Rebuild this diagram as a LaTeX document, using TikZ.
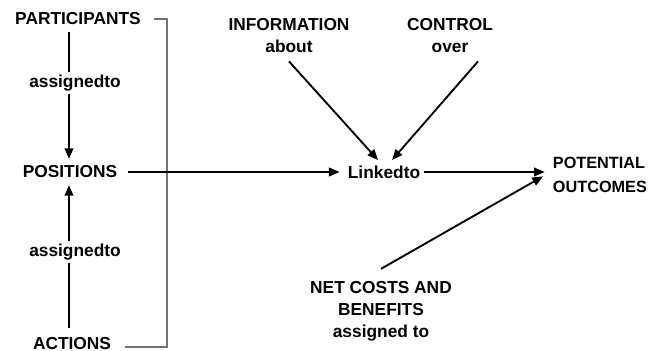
\documentclass[tikz,border=0pt]{standalone}
\usepackage{fontspec}
\setmainfont{Liberation Sans}
\usetikzlibrary{arrows.meta}
\begin{document}
\begin{tikzpicture}[x=0.75pt,y=-0.75pt,
  lbl/.style={font=\fontsize{13}{16.5}\selectfont\bfseries,inner sep=2pt,align=center},
  arr/.style={line width=1.4pt,-{Triangle[length=8pt,width=6.5pt]}},
  ln/.style={line width=1.4pt},
  brk/.style={line width=0.9pt,draw=black!55}]
\useasboundingbox (0,0) rectangle (652,350);
\node[lbl] (part) at (78,19) {PARTICIPANTS};
\node[lbl] (as1) at (75,83) {assignedto};
\node[lbl] (pos) at (70,172) {POSITIONS};
\node[lbl] (as2) at (75,252) {assignedto};
\node[lbl] (act) at (72,344) {ACTIONS};
\node[lbl] (info) at (289,36) {INFORMATION\\about};
\node[lbl] (ctrl) at (450,36) {CONTROL\\over};
\node[lbl] (link) at (384,172) {Linkedto};
\node[lbl,anchor=west,align=left,font=\fontsize{12.2}{17.5}\selectfont\bfseries] (pot) at (550,175) {POTENTIAL\\OUTCOMES};
\node[lbl] (net) at (381,311) {NET COSTS AND\\BENEFITS\\assigned to};
\coordinate (bt) at (167,19);
\coordinate (bb) at (167,347);
% bracket
\draw[brk] ([xshift=8pt]part.east) -- (bt) -- (bb) -- ([xshift=8pt]act.east |- bb);
% left column
\draw[ln] ([yshift=-3pt]part.south -| 69,0) -- (as1.north -| 69,0);
\draw[arr] (as1.south -| 69,0) -- ([yshift=3pt]pos.north -| 69,0);
\draw[ln] ([yshift=5pt]act.north -| 69,0) -- (as2.south -| 69,0);
\draw[arr] (as2.north -| 69,0) -- ([yshift=-3pt]pos.south -| 69,0);
% right
\draw[arr] ([xshift=6pt]pos.east) -- ([xshift=-4pt]link.west);
\draw[arr] ([xshift=1pt]link.east) -- ([xshift=-4pt]pot.west |- link);
\draw[arr] ([yshift=-4pt]info.south) -- ([xshift=-4.5pt,yshift=2pt]link.north);
\draw[arr] ([xshift=21pt,yshift=-4pt]ctrl.south) -- ([xshift=6pt,yshift=2pt]link.north);
\draw[arr] ([yshift=7pt]net.north) -- ([xshift=-5.25pt,yshift=-1pt]pot.west);
\end{tikzpicture}
\end{document}
